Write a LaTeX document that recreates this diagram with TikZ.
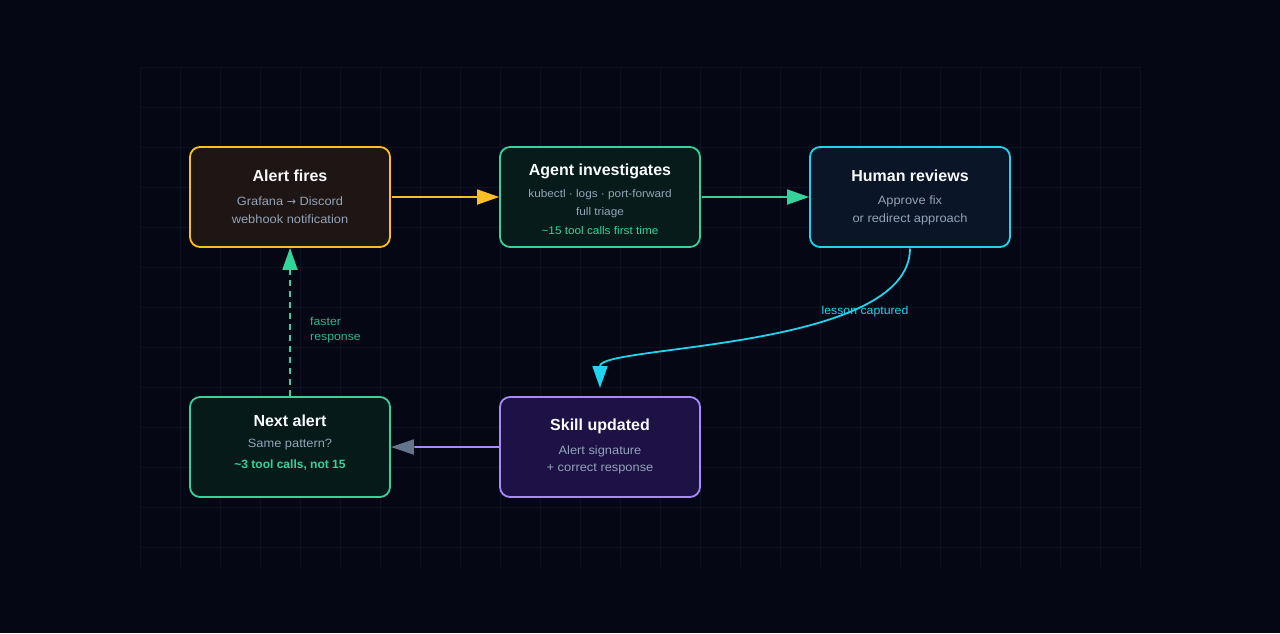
\documentclass[tikz,border=0pt]{standalone}
\usepackage{fontspec}
\setmainfont{Liberation Sans}
\newfontfamily\subfont[FakeStretch=1.07]{Liberation Sans}
\newfontfamily\symfont{DejaVu Sans}
\usetikzlibrary{arrows.meta}
\definecolor{bg}{HTML}{050714}
\definecolor{gridc}{HTML}{0D1223}
\definecolor{amber}{HTML}{FBBF24}
\definecolor{mint}{HTML}{34D399}
\definecolor{cyanc}{HTML}{22D3EE}
\definecolor{violet}{HTML}{A78BFA}
\definecolor{slatec}{HTML}{64748B}
\definecolor{subc}{HTML}{94A3B8}
\definecolor{titlec}{HTML}{F8FAFC}
\definecolor{fillA}{HTML}{1E1614}
\definecolor{fillB}{HTML}{071B1B}
\definecolor{fillC}{HTML}{0A1628}
\definecolor{fillD}{HTML}{061A1A}
\definecolor{fillE}{HTML}{1D1145}
\definecolor{fastc}{HTML}{2DB88A}
\tikzset{
  box/.style={rectangle, rounded corners=10pt, minimum width=200pt, minimum height=100pt, line width=1.8pt, inner sep=0pt},
  ttl/.style={text=titlec, font=\fontsize{16}{19}\selectfont\bfseries, inner sep=0pt, anchor=center},
  sub/.style={text=subc, font=\subfont\fontsize{12}{14}\selectfont, inner sep=0pt, anchor=center},
  subs/.style={text=subc, font=\subfont\fontsize{11}{13}\selectfont, inner sep=0pt, anchor=center},
  conn/.style={line width=1.8pt, -{Triangle[length=22pt, width=15pt]}},
  lbl/.style={font=\subfont\fontsize{11.5}{14}\selectfont, inner sep=0pt}
}
\begin{document}
\begin{tikzpicture}[x=1pt, y=-1pt]
\fill[bg] (0,0) rectangle (1280,633);
\useasboundingbox (0,0) rectangle (1280,633);
% grid
\foreach \gx in {140,180,...,1140} \draw[gridc, line width=1pt] (\gx,67) -- (\gx,567);
\foreach \gy in {67,107,...,567} \draw[gridc, line width=1pt] (140,\gy) -- (1140,\gy);

% boxes
\node[box, draw=amber, fill=fillA] (alert) at (290,197) {};
\node[box, draw=mint, fill=fillB] (agent) at (600,197) {};
\node[box, draw=cyanc, fill=fillC] (human) at (910,197) {};
\node[box, draw=mint, fill=fillD] (next) at (290,447) {};
\node[box, draw=violet, fill=fillE] (skill) at (600,447) {};

% texts
\node[ttl] (alertT) at (290,176) {Alert fires};
\node[sub] (alertS1) at (290,201) {Grafana {\symfont\fontsize{11}{13}\selectfont →} Discord};
\node[sub] (alertS2) at (290,219) {webhook notification};

\node[ttl] (agentT) at (600,171) {Agent investigates};
\node[subs] (agentS1) at (600,195) {kubectl · logs · port-forward};
\node[subs] (agentS2) at (600,213) {full triage};
\node[subs, text=mint] (agentS3) at (600,231) {\textasciitilde 15 tool calls first time};

\node[ttl] (humanT) at (910,176) {Human reviews};
\node[sub] (humanS1) at (910,201) {Approve fix};
\node[sub] (humanS2) at (910,219) {or redirect approach};

\node[ttl] (nextT) at (290,421) {Next alert};
\node[sub] (nextS1) at (290,445) {Same pattern?};
\node[sub, text=mint, font=\fontsize{12}{14}\selectfont\bfseries] (nextS2) at (290,465) {\textasciitilde 3 tool calls, not 15};

\node[ttl] (skillT) at (600,426) {Skill updated};
\node[sub] (skillS1) at (600,451) {Alert signature};
\node[sub] (skillS2) at (600,469) {+ correct response};

% connectors
\draw[conn, amber] (alert.east) ++(1.5,0) -- (agent.west);
\draw[conn, mint] (agent.east) ++(1.5,0) -- (human.west);
\coordinate (hstart) at (910,248.5);
\coordinate (cend) at (600,366);
\coordinate (stip) at (600,388);
\draw[conn, cyanc] (hstart) .. controls (910,350) and (600,345) .. (cend) -- (stip);
\draw[line width=1.8pt, violet] (skill.west) -- ++(-84,0) coordinate (gbase);
\draw[conn, slatec, -{Triangle[length=23pt, width=15pt]}] (gbase) -- (next.east);
\draw[conn, mint, dashed, dash pattern=on 6pt off 5pt] (next.north) -- (alert.south);

% labels
\node[lbl, text=cyanc] (lessonL) at (865,312) {lesson captured};
\node[lbl, text=fastc, align=left, anchor=west, font=\subfont\fontsize{11.5}{15}\selectfont] (fastL) at (310,330) {faster\\response};
\end{tikzpicture}
\end{document}
